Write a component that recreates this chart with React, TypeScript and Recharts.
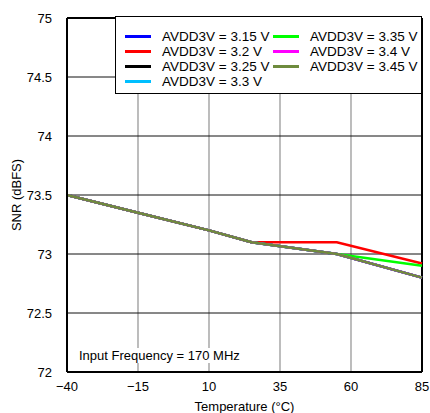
import { LineChart, Line, XAxis, YAxis, CartesianGrid, ReferenceLine, Label } from "recharts";

const temps = [-40, -15, 10, 25, 55, 85];
const snr315 = [73.5, 73.35, 73.2, 73.1, 73.0, 72.8];
const snr320 = [73.5, 73.35, 73.2, 73.1, 73.1, 72.92];
const snr325 = [73.5, 73.35, 73.2, 73.1, 73.0, 72.8];
const snr330 = [73.5, 73.35, 73.2, 73.1, 73.0, 72.8];
const snr335 = [73.5, 73.35, 73.2, 73.1, 73.0, 72.9];
const snr340 = [73.5, 73.35, 73.2, 73.1, 73.0, 72.8];
const snr345 = [73.5, 73.35, 73.2, 73.1, 73.0, 72.8];

const xTicks = [-40, -15, 10, 35, 60, 85];
const yTicks = [72, 72.5, 73, 73.5, 74, 74.5, 75];

const series = [
  { key: "v315", label: "AVDD3V = 3.15 V", color: "#0000ff", values: snr315 },
  { key: "v320", label: "AVDD3V = 3.2 V", color: "#ff0000", values: snr320 },
  { key: "v325", label: "AVDD3V = 3.25 V", color: "#000000", values: snr325 },
  { key: "v330", label: "AVDD3V = 3.3 V", color: "#00bfff", values: snr330 },
  { key: "v335", label: "AVDD3V = 3.35 V", color: "#00ff00", values: snr335 },
  { key: "v340", label: "AVDD3V = 3.4 V", color: "#ff00ff", values: snr340 },
  { key: "v345", label: "AVDD3V = 3.45 V", color: "#6e8b3d", values: snr345 },
];

const data = temps.map((t, i) => {
  const row: Record<string, number> = { temp: t };
  series.forEach((s) => (row[s.key] = s.values[i]));
  return row;
});

const font = "'Liberation Sans', Arial, sans-serif";
const fmt = (v: number) => String(v).replace("-", "\u2212");

function LegendBox() {
  const left = series.slice(0, 4);
  const right = series.slice(4);
  const col = (items: typeof series) => (
    <div style={{ display: "flex", flexDirection: "column", width: 151 }}>
      {items.map((s) => (
        <div key={s.key} style={{ display: "flex", alignItems: "center", height: 15 }}>
          <div style={{ width: 26, height: 3, background: s.color, marginRight: 11 }} />
          <span style={{ fontSize: 13.5, color: "#000", whiteSpace: "nowrap" }}>{s.label}</span>
        </div>
      ))}
    </div>
  );
  return (
    <div
      style={{
        position: "absolute",
        left: 115,
        top: 16,
        width: 307,
        height: 78,
        boxSizing: "border-box",
        border: "1.5px solid #000",
        background: "#fff",
        padding: "12px 0 0 9px",
        display: "flex",
        fontFamily: font,
      }}
    >
      {col(left)}
      {col(right)}
    </div>
  );
}

export default function App() {
  return (
    <div style={{ position: "fixed", left: 0, top: 0, width: 430, height: 413, background: "#fff" }}>
      <LineChart
        width={430}
        height={413}
        data={data}
        margin={{ top: 18, right: 8, left: 0, bottom: 0 }}
        style={{ fontFamily: font }}
      >
        <CartesianGrid horizontal={false} stroke="#999" strokeWidth={1.3} />
        <CartesianGrid vertical={false} stroke="#111" strokeWidth={1} />
        <XAxis
          dataKey="temp"
          type="number"
          domain={[-40, 85]}
          ticks={xTicks}
          tickFormatter={fmt}
          tickLine={false}
          axisLine={{ stroke: "#000", strokeWidth: 2 }}
          tick={{ fontSize: 13, fill: "#000" }}
          tickMargin={4}
          height={41}
        >
          <Label value="Temperature (°C)" position="insideBottom" offset={2} style={{ fontSize: 13, fill: "#000" }} />
        </XAxis>
        <YAxis
          type="number"
          domain={[72, 75]}
          ticks={yTicks}
          tickLine={false}
          axisLine={{ stroke: "#000", strokeWidth: 2 }}
          tick={{ fontSize: 13, fill: "#000" }}
          tickMargin={9}
          width={67}
        >
          <Label
            value="SNR (dBFS)"
            angle={-90}
            position="insideLeft"
            offset={16}
            style={{ fontSize: 13, fill: "#000", textAnchor: "middle" }}
          />
        </YAxis>
        <ReferenceLine y={75} stroke="#000" strokeWidth={2} />
        <ReferenceLine x={85} stroke="#000" strokeWidth={2} />
        {series.map((s) => (
          <Line
            key={s.key}
            dataKey={s.key}
            stroke={s.color}
            strokeWidth={2.5}
            dot={false}
            isAnimationActive={false}
          />
        ))}
      </LineChart>
      <LegendBox />
      <div
        style={{
          position: "absolute",
          left: 79,
          top: 348,
          fontSize: 13,
          fontFamily: font,
          color: "#000",
          background: "#fff",
        }}
      >
        Input Frequency = 170 MHz
      </div>
    </div>
  );
}
